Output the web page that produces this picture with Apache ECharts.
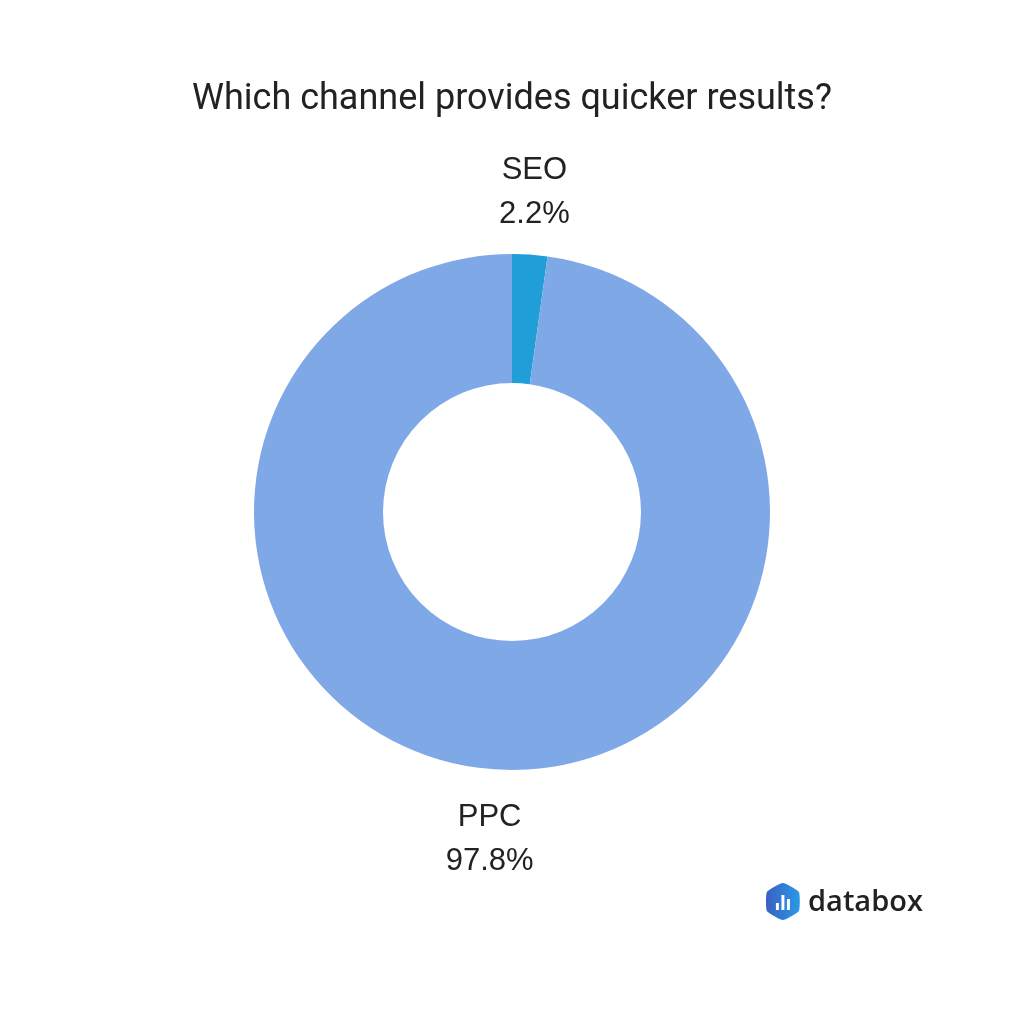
<!DOCTYPE html>
<html>
<head>
<meta charset="utf-8">
<script src="https://cdn.jsdelivr.net/npm/echarts@6/dist/echarts.min.js"></script>
<style>html,body{margin:0;padding:0;background:#fff}#c{width:1024px;height:1024px}</style>
</head>
<body>
<div id="c"></div>
<script>
var titleText = 'Which channel provides quicker results?';
var categories = ['SEO', 'PPC'];
var values = [2.2, 97.8];
var colors = ['#1f9ed8', '#7fa8e7'];

var data = categories.map(function (c, i) {
  return { name: c, value: values[i], itemStyle: { color: colors[i] } };
});

var chart = echarts.init(document.getElementById('c'), null, { renderer: 'canvas' });
chart.setOption({
  backgroundColor: '#ffffff',
  animation: false,
  title: {
    text: titleText,
    left: 'center',
    top: 77,
    textStyle: { fontFamily: 'Roboto', fontSize: 36, fontWeight: 'normal', color: '#222222' }
  },
  series: [
    {
      type: 'pie',
      center: [512, 512],
      radius: [129, 258],
      startAngle: 90,
      clockwise: true,
      silent: true,
      label: { show: false },
      labelLine: { show: false },
      itemStyle: { borderWidth: 0 },
      data: data
    },
    {
      type: 'pie',
      center: [512, 512],
      radius: [296, 346],
      startAngle: 90,
      clockwise: true,
      silent: true,
      itemStyle: { color: 'rgba(0,0,0,0)', borderWidth: 0 },
      label: {
        show: true,
        position: 'inside',
        formatter: function (p) { return p.name + '\n' + p.value + '%'; },
        fontFamily: 'Liberation Sans, Arial, sans-serif',
        fontSize: 31,
        lineHeight: 44,
        color: '#222222'
      },
      labelLayout: function () { return { dy: 4 }; },
      labelLine: { show: false },
      data: data.map(function (d) { return { name: d.name, value: d.value }; })
    }
  ],
  graphic: [
    {
      type: 'group',
      left: 766,
      top: 883,
      children: [
        {
          type: 'polygon',
          shape: { points: [[17, 0], [33, 9], [33, 28], [17, 37], [1, 28], [1, 9]], smooth: 0.15 },
          style: {
            fill: new echarts.graphic.LinearGradient(0, 0, 1, 0, [
              { offset: 0, color: '#3a5fc2' },
              { offset: 1, color: '#2a9ae6' }
            ])
          }
        },
        { type: 'rect', shape: { x: 10, y: 20, width: 3, height: 7 }, style: { fill: '#fff' } },
        { type: 'rect', shape: { x: 15.5, y: 12, width: 3, height: 15 }, style: { fill: '#fff' } },
        { type: 'rect', shape: { x: 21, y: 16, width: 3, height: 11 }, style: { fill: '#fff' } }
      ]
    },
    {
      type: 'text',
      left: 808,
      top: 888,
      style: {
        text: 'databox',
        font: '600 29px "Open Sans"',
        fill: '#222222'
      }
    }
  ]
});
</script>
</body>
</html>
